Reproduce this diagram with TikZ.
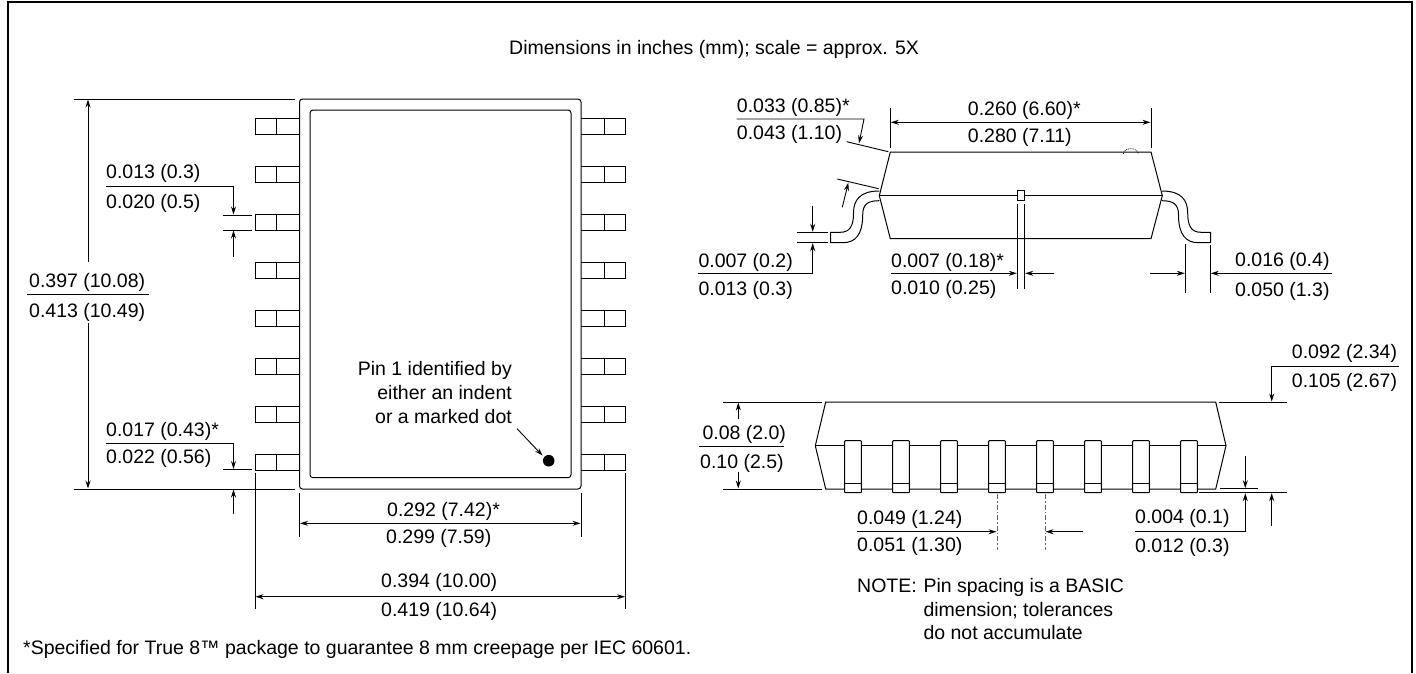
\documentclass[tikz,border=0pt]{standalone}
\usepackage{fontspec}
\setmainfont{Liberation Sans}
\usetikzlibrary{arrows.meta}

\tikzset{
  dimtext/.style={inner sep=0pt, font=\fontsize{19.5}{23}\selectfont, anchor=west, text height=14pt, text depth=0pt},
  dimline/.style={line width=.9pt},
  dimarrow/.style={line width=.9pt, -{Stealth[length=8pt,width=5pt]}},
  dimboth/.style={line width=.9pt, {Stealth[length=8pt,width=5pt]}-{Stealth[length=8pt,width=5pt]}},
  outline/.style={line width=1pt},
  pinbox/.style={line width=1pt, fill=white, rounded corners=.7pt},
}

\begin{document}
\begin{tikzpicture}[x=1pt,y=-1pt]
    \useasboundingbox (0,0) rectangle (1416,673);

    % frame
    \draw[line width=2.2pt] (8,673) -- (8,2) -- (1412,2) -- (1412,673);
    \node[dimtext] (title) at (509,47) {Dimensions in inches (mm); scale = approx. 5X};

    % top view
    \draw[outline, rounded corners=3pt] (299.5,99) rectangle (581,489);
    \draw[outline, rounded corners=3pt] (310,110) rectangle (571,477.7);
    \foreach \y in {118.5,166.5,214.5,262.5,310.5,358.5,406.5,454.5} {
      \draw[outline] (299.5,\y) -- (255,\y) -- (255,\y+15.5) -- (299.5,\y+15.5);
      \draw[outline] (276.5,\y) -- (276.5,\y+15.5);
      \draw[outline] (581,\y) -- (625.5,\y) -- (625.5,\y+15.5) -- (581,\y+15.5);
      \draw[outline] (604,\y) -- (604,\y+15.5);
    }

    % overall length
    \draw[dimline] (73.7,99) -- (294.6,99);
    \draw[dimline] (73.7,489) -- (294.6,489);
    \draw[dimarrow] (88,262) -- (88,99.5);
    \draw[dimarrow] (88,323) -- (88,488.5);
    \draw[dimline] (26.8,294.3) -- (149,294.3);
    \node[dimtext] (lena) at (29,280.7) {0.397 (10.08)};
    \node[dimtext] (lenb) at (29,310) {0.413 (10.49)};

    % lead width
    \draw[dimline] (222.8,215) -- (252,215);
    \draw[dimline] (222.8,230) -- (252,230);
    \draw[dimarrow] (106,186.7) -- (233.5,186.7) -- (233.5,214.5);
    \draw[dimarrow] (233.5,256.7) -- (233.5,230.5);
    \node[dimtext] (wida) at (106,171.7) {0.013 (0.3)};
    \node[dimtext] (widb) at (106,201) {0.020 (0.5)};

    % lead to edge
    \draw[dimline] (222.8,469.5) -- (252,469.5);
    \draw[dimarrow] (106,443.3) -- (233.5,443.3) -- (233.5,469);
    \draw[dimarrow] (233.5,514.3) -- (233.5,489.5);
    \node[dimtext] (edga) at (106,429.3) {0.017 (0.43)*};
    \node[dimtext] (edgb) at (106,456.7) {0.022 (0.56)};

    % pin 1
    \node[dimtext, anchor=east] (pina) at (512,368.3) {Pin 1 identified by};
    \node[dimtext, anchor=east] (pinb) at (512,392.3) {either an indent};
    \node[dimtext, anchor=east] (pinc) at (512,416) {or a marked dot};
    \fill (548.7,460.7) circle (5.8);
    \draw[dimarrow] (517,428.7) -- (542.5,455.5);

    % body width
    \draw[dimline] (299.5,492.7) -- (299.5,536.7);
    \draw[dimline] (581,492.7) -- (581,536.7);
    \draw[dimboth] (300,523.3) -- (580.5,523.3);
    \node[dimtext] (boda) at (387,509.3) {0.292 (7.42)*};
    \node[dimtext] (bodb) at (386,536.7) {0.299 (7.59)};

    % overall width
    \draw[dimline] (255,473) -- (255,609);
    \draw[dimline] (625.5,473) -- (625.5,609);
    \draw[dimboth] (255.5,596.7) -- (625,596.7);
    \node[dimtext] (wala) at (381,580.7) {0.394 (10.00)};
    \node[dimtext] (walb) at (381,609.3) {0.419 (10.64)};

    \node[dimtext] (foot) at (23,647) {*Specified for True 8™ package to guarantee 8 mm creepage per IEC 60601.};

    % side view
    \draw[outline] (890.3,152) -- (1151,152) -- (1162.3,195.7) -- (1151,238.7) -- (890.3,238.7) -- (879.3,195.7) -- cycle;
    \draw[outline] (879.3,195.7) -- (1162.3,195.7);
    \draw[line width=.8pt, densely dotted] (1123.3,154) arc (180:360:7.5 and 5.3);
    \draw[outline, fill=white] (1017.3,190.3) rectangle (1024.7,200.3);

    % leads
    \draw[outline] (879.3,191) .. controls (860,191) and (853.5,200) .. (853.5,213) .. controls (853.5,226) and (850,232.3) .. (840,232.3) -- (830.7,232.3) -- (830.7,242.7) -- (843,242.7) .. controls (855,242.7) and (862.7,235) .. (862.7,215) .. controls (862.7,204) and (868,200.7) .. (879.3,200.7);
    \draw[outline] (1161.9,191) .. controls (1181.2,191) and (1187.7,200) .. (1187.7,213) .. controls (1187.7,226) and (1191.2,232.3) .. (1201.2,232.3) -- (1210.5,232.3) -- (1210.5,242.7) -- (1198.2,242.7) .. controls (1186.2,242.7) and (1178.5,235) .. (1178.5,215) .. controls (1178.5,204) and (1173.2,200.7) .. (1161.9,200.7);

    % body length, side
    \draw[dimline] (890.3,108.3) -- (890.3,148.3);
    \draw[dimline] (1151,108.3) -- (1151,148.3);
    \draw[dimboth] (890.8,122.3) -- (1150.5,122.3);
    \node[dimtext] (sida) at (967.7,108.3) {0.260 (6.60)*};
    \node[dimtext] (sidb) at (967.7,135) {0.280 (7.11)};

    % shoulder
    \draw[dimline] (846.7,141.7) -- (888.3,151.7);
    \draw[dimline] (837.3,179) -- (878.7,188.7);
    \draw[dimarrow] (736.7,119) -- (864,119) -- (859,143.3);
    \draw[dimarrow] (842.3,207.3) -- (848.3,182.7);
    \node[dimtext] (shoa) at (736.7,105) {0.033 (0.85)*};
    \node[dimtext] (shob) at (736.7,132.3) {0.043 (1.10)};

    % lead thickness
    \draw[dimline] (797.3,232.3) -- (828.3,232.3);
    \draw[dimline] (797.3,242.7) -- (828.3,242.7);
    \draw[dimarrow] (812.7,206) -- (812.7,231.8);
    \draw[dimarrow] (698.3,273.3) -- (812.7,273.3) -- (812.7,243.2);
    \node[dimtext] (thka) at (698.3,260) {0.007 (0.2)};
    \node[dimtext] (thkb) at (698.3,288.3) {0.013 (0.3)};

    % flash
    \draw[dimline] (1017.3,204) -- (1017.3,289);
    \draw[dimline] (1024.7,204) -- (1024.7,289);
    \draw[dimarrow] (891,273.3) -- (1016.8,273.3);
    \draw[dimarrow] (1054.3,273.3) -- (1025.2,273.3);
    \node[dimtext] (flaa) at (891,260) {0.007 (0.18)*};
    \node[dimtext] (flab) at (891,287.7) {0.010 (0.25)};

    % foot length
    \draw[dimline] (1185.3,244) -- (1185.3,293.3);
    \draw[dimline] (1210.3,245) -- (1210.3,293.3);
    \draw[dimarrow] (1150,273.3) -- (1184.8,273.3);
    \draw[dimarrow] (1331.7,273.3) -- (1210.8,273.3);
    \node[dimtext] (fota) at (1235,259) {0.016 (0.4)};
    \node[dimtext] (fotb) at (1235,289) {0.050 (1.3)};

    % end view
    \draw[outline] (825.7,402) -- (1215.7,402) -- (1226,445.7) -- (1215.7,489) -- (825.7,489) -- (815.3,445.7) -- cycle;
    \draw[outline] (815.3,445.7) -- (1226,445.7);
    \foreach \x in {844.7,892.7,940.7,988.7,1036.7,1084.7,1132.7,1180.7} {
      \draw[pinbox] (\x,440.7) rectangle (\x+16.7,492.7);
      \draw[outline] (\x,483) -- (\x+16.7,483);
    }

    % height
    \draw[dimline] (723.3,402) -- (821.7,402);
    \draw[dimline] (723.3,489) -- (821.7,489);
    \draw[dimarrow] (738.3,419) -- (738.3,402.5);
    \draw[dimarrow] (738.3,471.7) -- (738.3,488.5);
    \draw[dimline] (699,446.3) -- (784.3,446.3);
    \node[dimtext] (hgta) at (702.3,432.3) {0.08 (2.0)};
    \node[dimtext] (hgtb) at (700,461.7) {0.10 (2.5)};

    % seated height
    \draw[dimline] (1219.3,402) -- (1286.7,402);
    \draw[dimarrow] (1399,366.3) -- (1271.7,366.3) -- (1271.7,401.5);
    \node[dimtext] (seta) at (1291.7,351.7) {0.092 (2.34)};
    \node[dimtext] (setb) at (1291.7,380.7) {0.105 (2.67)};

    % standoff
    \draw[dimline] (1220,488.7) -- (1258.3,488.7);
    \draw[dimline] (1199.3,492.7) -- (1286.7,492.7);
    \draw[dimarrow] (1245.3,455.7) -- (1245.3,488.2);
    \draw[dimarrow] (1135,531.3) -- (1245.3,531.3) -- (1245.3,493.2);
    \draw[dimarrow] (1271.7,525.7) -- (1271.7,493.2);
    \node[dimtext] (stoa) at (1135,516) {0.004 (0.1)};
    \node[dimtext] (stob) at (1135,545) {0.012 (0.3)};

    % pin spacing
    \draw[line width=.8pt, dash pattern=on 5pt off 2pt on 1.5pt off 2pt, black!60] (997,494) -- (997,550);
    \draw[line width=.8pt, dash pattern=on 5pt off 2pt on 1.5pt off 2pt, black!60] (1045,494) -- (1045,550);
    \draw[dimarrow] (857,531.7) -- (996.5,531.7);
    \draw[dimarrow] (1083.3,531.7) -- (1045.5,531.7);
    \node[dimtext] (spca) at (857,517.3) {0.049 (1.24)};
    \node[dimtext] (spcb) at (857,544.3) {0.051 (1.30)};

    % note
    \node[dimtext] (nota) at (857,585) {NOTE:};
    \node[dimtext] (notb) at (923.3,585) {Pin spacing is a BASIC};
    \node[dimtext] (notc) at (923.3,609.3) {dimension; tolerances};
    \node[dimtext] (notd) at (923.3,632.7) {do not accumulate};

  \end{tikzpicture}
\end{document}
